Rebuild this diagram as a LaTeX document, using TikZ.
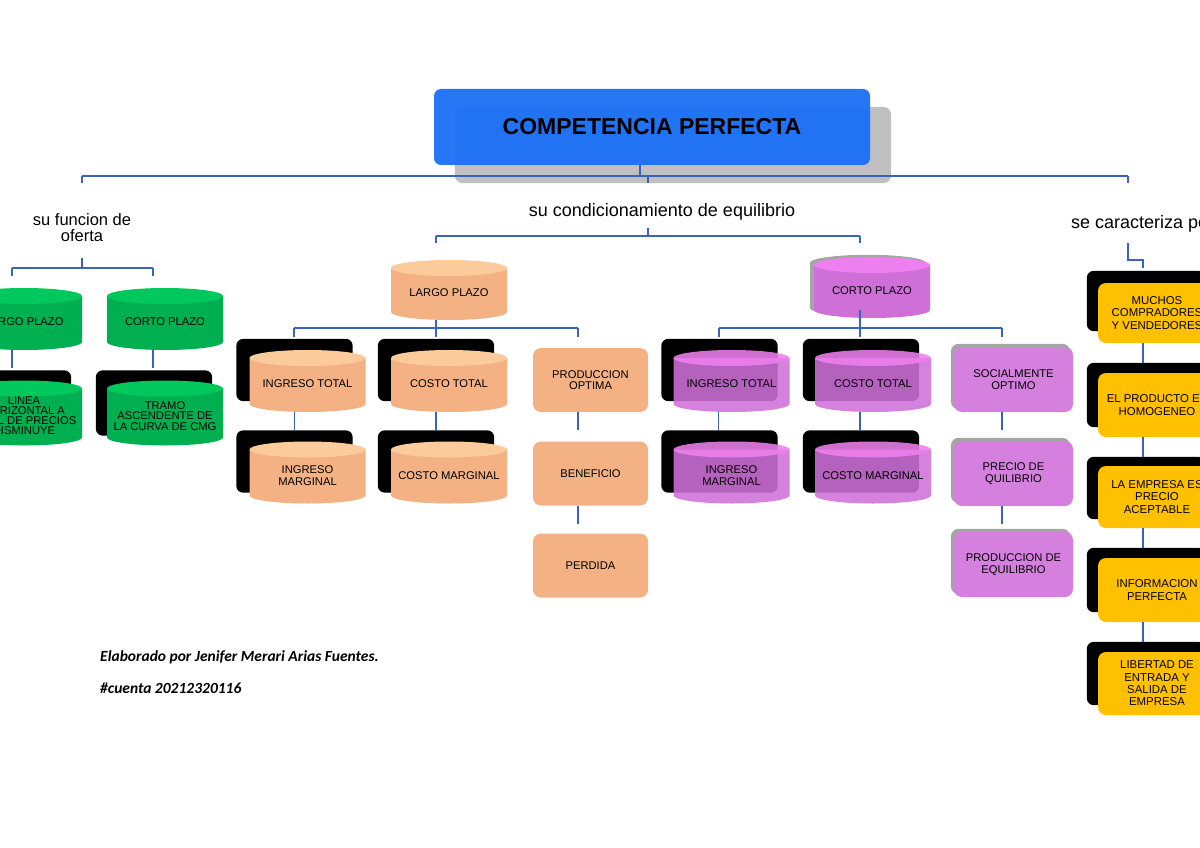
\documentclass[tikz,border=0pt]{standalone}
\usepackage{fontspec}
\setmainfont{Liberation Sans}
\newfontfamily\credfont{Carlito}
\usetikzlibrary{backgrounds}
\definecolor{blue1}{RGB}{26, 111, 246}
\definecolor{gray1}{RGB}{191, 191, 191}
\definecolor{gray2}{RGB}{165, 165, 165}
\definecolor{link1}{RGB}{59, 99, 184}
\definecolor{green1}{RGB}{0, 176, 80}
\definecolor{green2}{RGB}{0, 200, 92}
\definecolor{orange1}{RGB}{244, 177, 131}
\definecolor{orange2}{RGB}{251, 203, 156}
\definecolor{purple1}{RGB}{207, 112, 217}
\definecolor{purple2}{RGB}{238, 127, 238}
\definecolor{purple3}{RGB}{213, 128, 222}
\definecolor{yellow1}{RGB}{255, 192, 0}

% cylinder drawn inside the node, text sits 3pt below its middle
\newcommand{\cylpaint}[3]{%
  \fill[#1, fill opacity=#3] ([yshift=-8pt]path picture bounding box.north west)
    -- ([yshift=14pt]path picture bounding box.south west)
    arc[start angle=180, end angle=360, x radius=58pt, y radius=8pt]
    -- ([yshift=-8pt]path picture bounding box.north east) -- cycle;
  \fill[#2, fill opacity=#3] ([yshift=-8pt]path picture bounding box.north)
    ellipse[x radius=58pt, y radius=8pt];}

\tikzset{
  link/.style={draw=link1, line width=1.6pt},
  boxtext/.style={align=center, inner sep=0pt, font=\fontsize{11.2}{11.5}\selectfont},
  cyl/.style={boxtext, minimum width=116pt, minimum height=68pt},
  greencyl/.style={cyl, path picture={\cylpaint{green1}{green2}{1}}},
  orangecyl/.style={cyl, path picture={\cylpaint{orange1}{orange2}{1}}},
  purplecyl/.style={cyl, path picture={\cylpaint{purple1}{purple2}{#1}}},
  purplecyl/.default=0.88,
  orangebox/.style={boxtext, rounded corners=8pt, fill=orange1, minimum width=115pt, minimum height=64pt},
  purplebox/.style={boxtext, rounded corners=8pt, fill=purple3, minimum width=119pt, minimum height=65pt},
  yellowbox/.style={boxtext, rounded corners=8pt, fill=yellow1, minimum width=118pt, minimum height=62pt,
    font=\fontsize{11.4}{12.3}\selectfont},
  blackbox/.style={fill=black, rounded corners=7pt},
  head/.style={align=center, inner sep=0pt, font=\fontsize{16.5}{16}\selectfont},
  credit/.style={anchor=west, inner sep=0pt, font=\credfont\bfseries\itshape\fontsize{15.5}{18}\selectfont}
}

\begin{document}
\begin{tikzpicture}[x=1pt, y=-1pt]
  \useasboundingbox (0,0) rectangle (1200,848);

  \node[fill=blue1, fill opacity=0.95, text opacity=1, rounded corners=7pt, minimum width=436pt,
        minimum height=76pt, font=\bfseries\fontsize{23}{26}\selectfont] (comp) at (652,127) {COMPETENCIA PERFECTA};

  \node[head] (hOferta) at (82,228) {su funcion de\\oferta};
  \node[head] (hEquil) at (662,212) {\fontsize{18}{18}\selectfont su condicionamiento de equilibrio};
  \node[head, anchor=west] (hCarac) at (1071,224) {\fontsize{18}{18}\selectfont se caracteriza por};

  % oferta
  \node[greencyl] (lpG) at (24,322) {LARGO PLAZO};
  \node[greencyl] (cpG) at (165,322) {CORTO PLAZO};
  \node[greencyl, minimum height=71pt, font=\fontsize{11.2}{10}\selectfont] (lhG) at (24,416) {LINEA\\HORIZONTAL A\\NIVEL DE PRECIOS\\DISMINUYE};
  \node[greencyl, minimum height=71pt, font=\fontsize{11.2}{10.5}\selectfont] (tcG) at (165,416) {TRAMO\\ASCENDENTE DE\\LA CURVA DE CMG};

  % largo plazo
  \node[orangecyl, minimum height=66pt] (lpO) at (449,293) {LARGO PLAZO};
  \node[orangecyl] (itO) at (307.5,384) {INGRESO TOTAL};
  \node[orangecyl] (ctO) at (449,384) {COSTO TOTAL};
  \node[orangebox] (poO) at (590.5,380) {PRODUCCION\\OPTIMA};
  \node[orangecyl] (imO) at (307.5,475.5) {INGRESO\\MARGINAL};
  \node[orangecyl] (cmO) at (449,475.5) {COSTO MARGINAL};
  \node[orangebox] (beO) at (590.5,473.5) {BENEFICIO};
  \node[orangebox] (peO) at (590.5,565.5) {PERDIDA};

  % corto plazo
  \node[purplecyl=1, minimum height=67pt] (cpP) at (872,290.5) {CORTO PLAZO};
  \node[purplecyl] (itP) at (731.5,384) {INGRESO TOTAL};
  \node[purplecyl] (ctP) at (873,384) {COSTO TOTAL};
  \node[purplebox] (soP) at (1013.5,379.5) {SOCIALMENTE\\OPTIMO};
  \node[purplecyl] (imP) at (731.5,475.5) {INGRESO\\MARGINAL};
  \node[purplecyl] (cmP) at (873,475.5) {COSTO MARGINAL};
  \node[purplebox] (pqP) at (1013.5,473.5) {PRECIO DE\\QUILIBRIO};
  \node[purplebox] (peP) at (1013.5,564.5) {PRODUCCION DE\\EQUILIBRIO};

  % caracteristicas
  \node[yellowbox, minimum height=60pt] (y1) at (1157,313) {MUCHOS\\COMPRADORES\\Y VENDEDORES};
  \node[yellowbox, minimum height=64pt] (y2) at (1157,405) {EL PRODUCTO ES\\HOMOGENEO};
  \node[yellowbox] (y3) at (1157,497) {LA EMPRESA ES\\PRECIO\\ACEPTABLE};
  \node[yellowbox, minimum height=64pt] (y4) at (1157,590) {INFORMACION\\PERFECTA};
  \node[yellowbox, minimum height=63pt] (y5) at (1157,683.5) {LIBERTAD DE\\ENTRADA Y\\SALIDA DE\\EMPRESA};

  \node[credit] (autor) at (100,657) {Elaborado por Jenifer Merari Arias Fuentes.};
  \node[credit] (cuenta) at (100,688) {\#cuenta 20212320116};

  \begin{scope}[on background layer]
    \fill[gray1, rounded corners=8pt] ([shift={(21pt,-18pt)}]comp.south west) rectangle ([shift={(21pt,-18pt)}]comp.north east);
    \foreach \n/\dx/\dy in {lhG/-11pt/10pt, tcG/-11pt/10pt, itO/-13pt/11pt, ctO/-13pt/11pt, imO/-13pt/11pt,
        cmO/-13pt/11pt, itP/-12pt/11pt, ctP/-12pt/11pt, imP/-12pt/11pt, cmP/-12pt/11pt}
      \fill[blackbox] ([shift={(\dx,{\dy+6pt})}]\n.south west) rectangle ([shift={(\dx,\dy)}]\n.north east);
    \foreach \n/\dy in {y1/12pt, y2/10pt, y3/9pt, y4/10pt, y5/10pt}
      \fill[blackbox] ([shift={(-11pt,\dy)}]\n.south west) rectangle ([shift={(-11pt,\dy)}]\n.north east);
    \foreach \n in {soP, pqP, peP}
      \fill[gray2, rounded corners=8pt] ([shift={(-3pt,3pt)}]\n.south west) rectangle ([shift={(-3pt,3pt)}]\n.north east);
    \fill[gray2] ([shift={(-4pt,-6pt)}]cpP.north) ellipse[x radius=58pt, y radius=8pt];
    \fill[gray2] ([shift={(-4pt,-6pt)}]cpP.north west) rectangle ([shift={(-4pt,16pt)}]cpP.south east);
    \fill[gray2] ([shift={(-4pt,16pt)}]cpP.south) ellipse[x radius=58pt, y radius=8pt];
  \end{scope}

  % title branches
  \draw[link] ([xshift=-12pt]comp.south) -- ++(0,11);
  \coordinate (topL) at (82,176);
  \coordinate (topR) at (1128,176);
  \draw[link] (topL) -- (topR);
  \foreach \x in {82,648,1128}
    \draw[link] (\x,176) -- ++(0,7);

  \draw[link] (82,258) -- (82,268);
  \draw[link] (12,268) -- (153,268);
  \foreach \x in {12,153}
    \draw[link] (\x,268) -- ++(0,8);
  \foreach \n in {lpG,cpG}
    \draw[link] ([xshift=-12pt,yshift=6pt]\n.south) -- ++(0,18);

  \draw[link] (648,228) -- (648,236);
  \draw[link] (436,236) -- (860,236);
  \foreach \x in {436,860}
    \draw[link] (\x,236) -- ++(0,7);

  \draw[link] ([xshift=-13pt,yshift=6pt]lpO.south) -- ++(0,8);
  \draw[link] (294,328) -- (578,328);
  \foreach \x in {294,436,578}
    \draw[link] (\x,328) -- ++(0,9);
  \foreach \n in {itO,ctO}
    \draw[link] ([xshift=-13pt,yshift=6pt]\n.south) -- ++(0,18);
  \foreach \n in {poO,beO}
    \draw[link] ([xshift=-12.5pt]\n.south) -- ++(0,18);

  \draw[link] ([xshift=-12pt,yshift=14pt]cpP.south) -- ++(0,18);
  \draw[link] (719,328) -- (1002,328);
  \foreach \x in {719,860,1002}
    \draw[link] (\x,328) -- ++(0,9);
  \foreach \n in {itP,ctP}
    \draw[link] ([xshift=-13pt,yshift=6pt]\n.south) -- ++(0,18);
  \foreach \n in {soP,pqP}
    \draw[link] ([xshift=-11.5pt]\n.south) -- ++(0,18);

  \draw[link] (1128,243) |- (1143,260) -- (1143,268);
  \foreach \n in {y1,y2,y3,y4}
    \draw[link] ([xshift=-14pt]\n.south) -- ++(0,20);
\end{tikzpicture}
\end{document}
